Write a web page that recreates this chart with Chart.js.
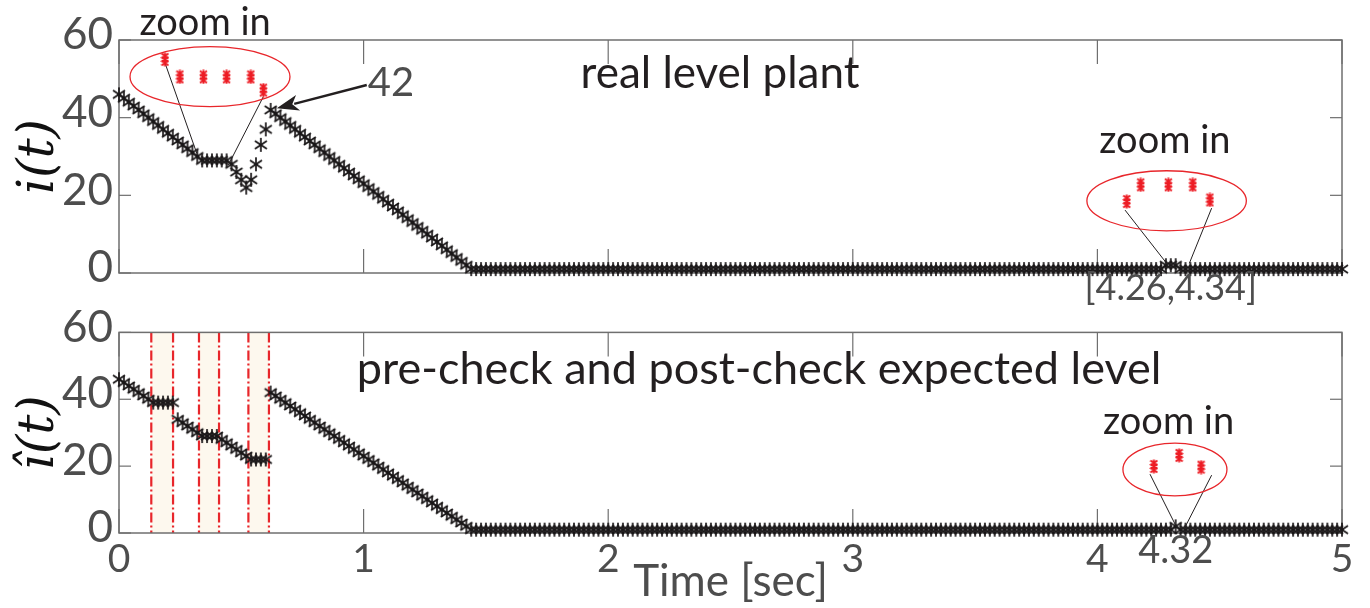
<!DOCTYPE html>
<html>
<head>
<meta charset="utf-8">
<script src="https://cdn.jsdelivr.net/npm/chart.js@4.4.1/dist/chart.umd.min.js"></script>
<style>
  html, body { margin: 0; padding: 0; background: #fff; }
  #wrap { position: relative; width: 1370px; height: 608px; }
  canvas { position: absolute; left: 0; }
  #plantChart { top: 0; z-index: 2; }
  #expectedChart { top: 300px; z-index: 1; }
</style>
</head>
<body>
<div id="wrap">
  <canvas id="plantChart" width="1370" height="312"></canvas>
  <canvas id="expectedChart" width="1370" height="308"></canvas>
</div>
<script>
// sampled every 0.02 s from 0 to 5 s
const sampleStep = 0.02;
const timeTicks = [0, 1, 2, 3, 4, 5];
const levelTicks = [0, 20, 40, 60];

// real level plant, i(t)
const plantLevel = [
  46,45,44,43,42,41,40,39,38,37,36,35,34,33,32,31,30,29,
  29,29,29,29,29,
  28,26,24,22,24,28,33,37,42,
  41,40,39,38,37,36,35,34,33,32,31,30,29,28,27,26,25,24,23,22,21,
  20,19,18,17,16,15,14,13,12,11,10,9,8,7,6,5,4,3,2,1,
  1,1,1,1,1,1,1,1,1,1, 1,1,1,1,1,1,1,1,1,1, 1,1,1,1,1,1,1,1,1,1,
  1,1,1,1,1,1,1,1,1,1, 1,1,1,1,1,1,1,1,1,1, 1,1,1,1,1,1,1,1,1,1,
  1,1,1,1,1,1,1,1,1,1, 1,1,1,1,1,1,1,1,1,1, 1,1,1,1,1,1,1,1,1,1,
  1,1,1,1,1,1,1,1,1,1, 1,1,1,1,1,1,1,1,1,1, 1,1,1,1,1,1,1,1,1,1,
  1,1,1,1,1,1,1,1,1,1, 1,1,1,1,1,1,1,1,1,1, 1,
  2,2,2,
  1,1,1,1,1,1,1,1,1,1, 1,1,1,1,1,1,1,1,1,1, 1,1,1,1,1,1,1,1,1,1, 1,1,1,1
];

// pre-check and post-check expected level, î(t)
const expectedLevel = [
  46,45,44,43,42,41,40,
  39,39,39,39,39,
  34,33,32,31,30,
  29,29,29,29,
  28,27,26,25,24,23,
  22,22,22,22,
  42,
  41,40,39,38,37,36,35,34,33,32,31,30,29,28,27,26,25,24,23,22,21,
  20,19,18,17,16,15,14,13,12,11,10,9,8,7,6,5,4,3,2,1,
  1,1,1,1,1,1,1,1,1,1, 1,1,1,1,1,1,1,1,1,1, 1,1,1,1,1,1,1,1,1,1,
  1,1,1,1,1,1,1,1,1,1, 1,1,1,1,1,1,1,1,1,1, 1,1,1,1,1,1,1,1,1,1,
  1,1,1,1,1,1,1,1,1,1, 1,1,1,1,1,1,1,1,1,1, 1,1,1,1,1,1,1,1,1,1,
  1,1,1,1,1,1,1,1,1,1, 1,1,1,1,1,1,1,1,1,1, 1,1,1,1,1,1,1,1,1,1,
  1,1,1,1,1,1,1,1,1,1, 1,1,1,1,1,1,1,1,1,1, 1,1,1,
  2,
  1,1,1,1,1,1,1,1,1,1, 1,1,1,1,1,1,1,1,1,1, 1,1,1,1,1,1,1,1,1,1, 1,1,1,1
];

// check windows (s) shaded in the lower panel
const checkWindows = [[0.132, 0.221], [0.327, 0.409], [0.529, 0.613]];

// zoomed-in samples shown in the red callouts
const plantZoomLeft = [[0.188, 55.0], [0.249, 50.5], [0.345, 50.5], [0.440, 50.5], [0.539, 50.5], [0.590, 47.1]];
const plantZoomRight = [[4.120, 18.4], [4.177, 22.7], [4.290, 22.7], [4.390, 22.7], [4.460, 18.8]];
const expectedZoom = [[4.231, 19.9], [4.334, 23.2], [4.424, 19.7]];

const ink = '#231f20';
const gray = '#4d4d4d';
const red = '#e8262b';

function seg(ctx, x0, y0, x1, y1) {
  ctx.beginPath(); ctx.moveTo(x0, y0); ctx.lineTo(x1, y1); ctx.stroke();
}

function makeAsterisk() {
  const c = document.createElement('canvas');
  c.width = 16; c.height = 16;
  const g = c.getContext('2d');
  g.strokeStyle = '#1a1718'; g.lineWidth = 1.7;
  seg(g, 8, 1, 8, 15);
  seg(g, 2, 4, 14, 12);
  seg(g, 14, 4, 2, 12);
  return c;
}

function makeRedBlob() {
  const c = document.createElement('canvas');
  c.width = 9; c.height = 15;
  const g = c.getContext('2d');
  g.strokeStyle = '#ed1c24'; g.lineWidth = 2;
  [4, 7.5, 11].forEach(cy => {
    seg(g, 4.5, cy - 3.5, 4.5, cy + 3.5);
    seg(g, 1, cy - 2.5, 8, cy + 2.5);
    seg(g, 8, cy - 2.5, 1, cy + 2.5);
  });
  return c;
}

const asterisk = makeAsterisk();
const redBlob = makeRedBlob();

const toPoints = arr => arr.map((v, i) => ({ x: +(i * sampleStep).toFixed(2), y: v }));
const pairs = arr => arr.map(p => ({ x: p[0], y: p[1] }));

// MATLAB-like box, inward ticks, shaded windows and callouts
const panelDecor = {
  id: 'panelDecor',
  beforeDatasetsDraw(chart, args, o) {
    const { ctx, chartArea: a } = chart;
    const xs = chart.scales.x, ys = chart.scales.y;
    ctx.save();
    (o.bands || []).forEach(([t0, t1]) => {
      const x0 = xs.getPixelForValue(t0), x1 = xs.getPixelForValue(t1);
      ctx.fillStyle = '#fdf8ee';
      ctx.fillRect(x0, a.top, x1 - x0, a.bottom - a.top);
    });
    ctx.strokeStyle = red; ctx.lineWidth = 2.2; ctx.setLineDash([10, 3, 2, 3]);
    (o.bands || []).forEach(b => b.forEach(t => {
      const px = xs.getPixelForValue(t);
      seg(ctx, px, a.top, px, a.bottom);
    }));
    ctx.setLineDash([]);
    ctx.strokeStyle = '#6f6f6f'; ctx.lineWidth = 1.5;
    ctx.strokeRect(a.left, a.top, a.width, a.height);
    ctx.lineWidth = 1.2;
    timeTicks.forEach(t => {
      const px = xs.getPixelForValue(t);
      seg(ctx, px, a.bottom, px, a.bottom - 24);
      seg(ctx, px, a.top, px, a.top + 24);
    });
    levelTicks.forEach(v => {
      const py = ys.getPixelForValue(v);
      seg(ctx, a.left, py, a.left + 12, py);
      seg(ctx, a.right, py, a.right - 12, py);
    });
    ctx.restore();
  },
  afterDatasetsDraw(chart, args, o) {
    const { ctx } = chart;
    const xs = chart.scales.x, ys = chart.scales.y;
    const X = t => xs.getPixelForValue(t), Y = v => ys.getPixelForValue(v);
    ctx.save();
    ctx.strokeStyle = red; ctx.lineWidth = 1.3;
    (o.ellipses || []).forEach(e => {
      const cx = X(e.x), cy = Y(e.y);
      ctx.beginPath();
      ctx.ellipse(cx, cy, X(e.x + e.rx) - cx, cy - Y(e.y + e.ry), 0, 0, Math.PI * 2);
      ctx.stroke();
    });
    (o.arrows || []).forEach(ar => {
      const x0 = X(ar.from[0]), y0 = Y(ar.from[1]), x1 = X(ar.to[0]), y1 = Y(ar.to[1]);
      const ang = Math.atan2(y1 - y0, x1 - x0);
      const L = 22, W = 8;
      const bx = x1 - L * Math.cos(ang), by = y1 - L * Math.sin(ang);
      ctx.strokeStyle = ink; ctx.fillStyle = ink; ctx.lineWidth = 2.5;
      seg(ctx, x0, y0, bx + 4 * Math.cos(ang), by + 4 * Math.sin(ang));
      ctx.beginPath();
      ctx.moveTo(x1, y1);
      ctx.lineTo(bx - W * Math.sin(ang), by + W * Math.cos(ang));
      ctx.lineTo(bx + 6 * Math.cos(ang), by + 6 * Math.sin(ang));
      ctx.lineTo(bx + W * Math.sin(ang), by - W * Math.cos(ang));
      ctx.closePath();
      ctx.fill();
    });
    (o.texts || []).forEach(tx => {
      ctx.font = tx.font;
      ctx.fillStyle = tx.color;
      ctx.textAlign = 'center';
      ctx.textBaseline = 'alphabetic';
      ctx.fillText(tx.text, X(tx.x), Y(tx.y));
    });
    ctx.restore();
  }
};

function seriesSet(values) {
  return {
    data: toPoints(values),
    showLine: false,
    pointStyle: asterisk,
    pointRadius: 8,
    clip: false,
    order: 2
  };
}
function leaderLine(p0, p1) {
  return {
    data: pairs([p0, p1]),
    showLine: true,
    borderColor: ink,
    borderWidth: 1,
    pointRadius: 0,
    clip: false,
    order: 1
  };
}
function zoomDots(arr) {
  return {
    data: pairs(arr),
    showLine: false,
    pointStyle: redBlob,
    pointRadius: 5,
    clip: false,
    order: 0
  };
}

function yAxis(title) {
  return {
    min: 0, max: 60,
    afterFit: s => { s.width = 119; },
    grid: { display: false, drawTicks: false },
    border: { display: false },
    ticks: {
      stepSize: 20, padding: 6, labelOffset: -5,
      color: gray, font: { family: 'Lato', size: 44 }
    },
    title: {
      display: true, text: title, color: '#111',
      font: { family: 'DejaVu Serif', style: 'italic', size: 50 },
      padding: { top: 10, bottom: 0 }
    }
  };
}

const baseOptions = {
  responsive: false,
  animation: false,
  events: [],
  devicePixelRatio: 1,
  plugins: { legend: { display: false }, tooltip: { enabled: false } }
};

new Chart(document.getElementById('plantChart'), {
  type: 'scatter',
  data: {
    datasets: [
      seriesSet(plantLevel),
      leaderLine([0.188, 54.1], [0.318, 30.8]),
      leaderLine([0.590, 45.4], [0.447, 27.8]),
      leaderLine([4.113, 16.2], [4.283, 2.5]),
      leaderLine([4.467, 16.7], [4.376, 2.5]),
      zoomDots(plantZoomLeft),
      zoomDots(plantZoomRight)
    ]
  },
  options: {
    ...baseOptions,
    layout: { padding: { top: 40, right: 28, bottom: 39, left: 0 } },
    scales: {
      x: {
        type: 'linear', min: 0, max: 5,
        afterFit: s => { s.height = 0; },
        grid: { display: false, drawTicks: false },
        border: { display: false },
        ticks: { display: false, stepSize: 1 }
      },
      y: yAxis('i(t)')
    },
    plugins: {
      ...baseOptions.plugins,
      panelDecor: {
        ellipses: [
          { x: 0.372, y: 50.55, rx: 0.327, ry: 7.73 },
          { x: 4.283, y: 18.6, rx: 0.326, ry: 7.73 }
        ],
        arrows: [{ from: [1.013, 48.4], to: [0.645, 42.4] }],
        texts: [
          { text: 'zoom in', x: 0.352, y: 61.3, font: '38px Lato', color: ink },
          { text: 'real level plant', x: 2.457, y: 47.6, font: '44px Lato', color: ink },
          { text: '42', x: 1.112, y: 45.6, font: '40px Lato', color: gray },
          { text: 'zoom in', x: 4.276, y: 30.8, font: '38px Lato', color: ink },
          { text: '[4.26,4.34]', x: 4.30, y: -7, font: '36px Lato', color: gray }
        ]
      }
    }
  },
  plugins: [panelDecor]
});

new Chart(document.getElementById('expectedChart'), {
  type: 'scatter',
  data: {
    datasets: [
      seriesSet(expectedLevel),
      leaderLine([4.215, 17.6], [4.324, 1.7]),
      leaderLine([4.467, 17.3], [4.358, 1.7]),
      zoomDots(expectedZoom)
    ]
  },
  options: {
    ...baseOptions,
    layout: { padding: { top: 5, right: 28, bottom: 0, left: 0 } },
    scales: {
      x: {
        type: 'linear', min: 0, max: 5,
        afterFit: s => { s.height = 75; },
        grid: { display: false, drawTicks: false },
        border: { display: false },
        ticks: { stepSize: 1, padding: 3, color: gray, font: { family: 'Lato', size: 39 } },
        title: {
          display: true, text: 'Time [sec]', color: gray,
          font: { family: 'Lato', size: 44 },
          padding: { top: 0, bottom: 0 }
        }
      },
      y: yAxis('î(t)')
    },
    plugins: {
      ...baseOptions.plugins,
      panelDecor: {
        bands: checkWindows,
        ellipses: [{ x: 4.317, y: 19.0, rx: 0.2126, ry: 7.9 }],
        texts: [
          { text: 'pre-check and post-check expected level', x: 2.617, y: 44.7, font: '45px Lato', color: ink },
          { text: 'zoom in', x: 4.291, y: 29.6, font: '38px Lato', color: ink },
          { text: '4.32', x: 4.32, y: -8.9, font: '38px Lato', color: gray }
        ]
      }
    }
  },
  plugins: [panelDecor]
});
</script>
</body>
</html>
